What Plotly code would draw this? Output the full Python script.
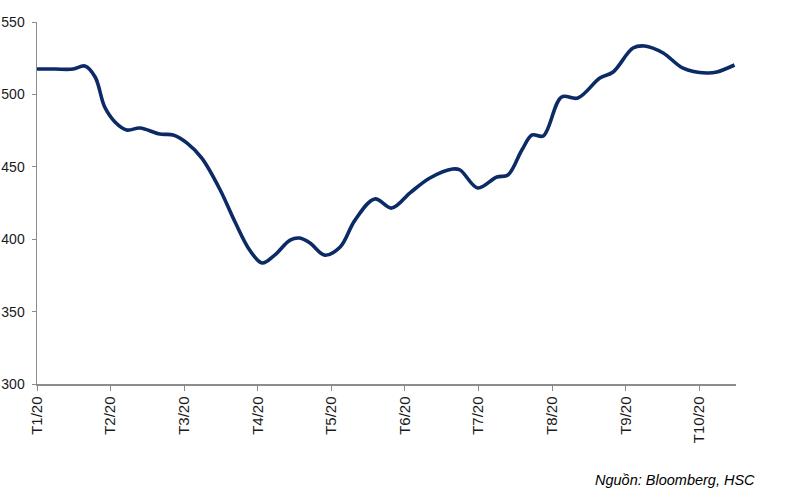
import plotly.graph_objects as go

# Month index (0 = T1/20) and index value
month_pos = [0, 0.24, 0.49, 0.65, 0.79, 0.92, 1.06, 1.22, 1.40, 1.67, 1.85, 2.04, 2.24,
             2.49, 2.69, 2.89, 3.06, 3.23, 3.44, 3.57, 3.71, 3.91, 4.12, 4.32, 4.59,
             4.82, 5.07, 5.34, 5.65, 5.75, 5.99, 6.25, 6.40, 6.59, 6.73, 6.88, 7.13,
             7.35, 7.65, 7.83, 8.10, 8.26, 8.51, 8.78, 9.10, 9.24, 9.48]
values = [517.5, 517.5, 517.5, 519.6, 512, 491.3, 481, 475.4, 476.8, 472.6, 472, 466.4, 456,
          434, 412, 392.5, 383.6, 389, 399.4, 400.8, 397.4, 389, 394.6, 413, 427.8,
          421.5, 432, 442.3, 448.5, 447.8, 435.4, 443, 444.3, 461.6, 472, 471.3, 498.2,
          497.5, 511.3, 515.5, 532, 533.4, 528.6, 518.2, 514.8, 515.5, 520.3]

tick_vals = list(range(10))
tick_labels = ["T1/20", "T2/20", "T3/20", "T4/20", "T5/20", "T6/20", "T7/20",
               "T8/20", "T9/20", "T10/20"]
y_ticks = [300, 350, 400, 450, 500, 550]
source_text = "Nguồn: Bloomberg, HSC"

fig = go.Figure()
fig.add_trace(go.Scatter(
    x=month_pos, y=values, mode="lines",
    line=dict(color="#0b2a66", width=3.6, shape="spline", smoothing=1.0),
    hoverinfo="skip", showlegend=False,
))

fam = "Liberation Sans, Arial, sans-serif"

fig.update_layout(
    width=794, height=503,
    margin=dict(l=37, r=58, t=22, b=119),
    paper_bgcolor="white", plot_bgcolor="white",
    font=dict(family=fam, size=13, color="#1a1a1a"),
    xaxis=dict(
        range=[0, 9.5], tickmode="array", tickvals=tick_vals, ticktext=tick_labels,
        tickangle=-90, showgrid=False, zeroline=False, automargin=False,
        showline=True, linecolor="#8c8c8c", linewidth=1.5,
        ticks="outside", ticklen=5, tickcolor="#8c8c8c", tickwidth=1,
        tickfont=dict(family=fam, size=15, color="#1a1a1a"),
    ),
    yaxis=dict(
        range=[300, 550], tickmode="array", tickvals=y_ticks,
        showgrid=False, zeroline=False, automargin=False,
        showline=True, linecolor="#8c8c8c", linewidth=1.5,
        ticks="outside", ticklen=4, tickcolor="#8c8c8c", tickwidth=1,
        ticklabelstandoff=4,
        tickfont=dict(family=fam, size=14, color="#1a1a1a"),
    ),
    annotations=[dict(
        text=source_text, xref="paper", yref="paper",
        x=(757 - 37) / 699, y=(384 - 480) / 362, xanchor="right", yanchor="middle",
        showarrow=False,
        font=dict(family=fam, size=14.5, color="#000000", style="italic"),
    )],
)

fig.write_html("out.html", config={"displayModeBar": False, "staticPlot": True})

# remove the browser's default page margin so the figure sits at the window's corner
with open("out.html", "r", encoding="utf-8") as f:
    html = f.read()
html = html.replace("<body>", '<body style="margin:0;padding:0;overflow:hidden">', 1)
with open("out.html", "w", encoding="utf-8") as f:
    f.write(html)
